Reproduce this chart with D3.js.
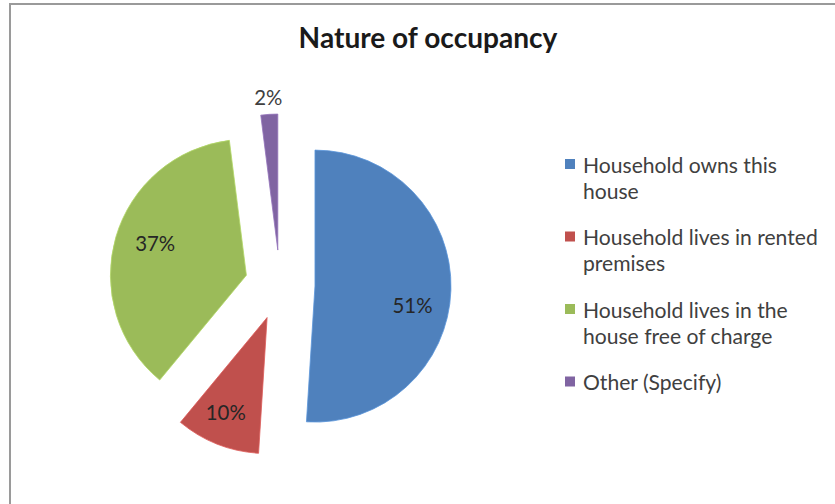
<!DOCTYPE html>
<html>
<head>
<meta charset="utf-8">
<script src="https://cdn.jsdelivr.net/npm/d3@7/dist/d3.min.js"></script>
<style>
  html, body { margin: 0; padding: 0; background: #fff; }
  svg { display: block; }
  text { font-family: Lato, "Open Sans", sans-serif; }
</style>
</head>
<body>
<svg id="chart" width="835" height="504"></svg>
<script>
// Occupancy shares (percent)
const categories = [
  "Household owns this house",
  "Household lives in rented premises",
  "Household lives in the house free of charge",
  "Other (Specify)"
];
const values = [51, 10, 37, 2];
const valueLabels = ["51%", "10%", "37%", "2%"];
const legendLines = [
  ["Household owns this", "house"],
  ["Household lives in rented", "premises"],
  ["Household lives in the", "house free of charge"],
  ["Other (Specify)"]
];
const title = "Nature of occupancy";

const colors = ["#4F81BD", "#C0504D", "#9BBB59", "#8064A2"];

const svg = d3.select("#chart");
const W = 835, H = 504;

// scale a text element's font size so it spans the given width
function fitWidth(sel, baseSize, width) {
  sel.attr("font-size", baseSize);
  const w = sel.node().getComputedTextLength();
  return baseSize * width / w;
}

// chart area frame (runs off the right and bottom edges)
svg.append("rect")
  .attr("x", 10).attr("y", 4)
  .attr("width", W + 20).attr("height", H + 20)
  .attr("fill", "#fff")
  .attr("stroke", "#9a9a9a")
  .attr("stroke-width", 2);

// title
const t = svg.append("text")
  .attr("x", 428).attr("y", 48)
  .attr("text-anchor", "middle")
  .attr("font-weight", 700)
  .attr("fill", "#1a1a1a")
  .text(title);
t.attr("font-size", fitWidth(t, 20, 259));

// pie geometry
const cx = 280, cy = 285, radius = 136, explode = 35;
const pie = d3.pie().sort(null).value(d => d)(values);
const arc = d3.arc().innerRadius(0).outerRadius(radius);

const g = svg.append("g").attr("transform", `translate(${cx},${cy})`);

const labelNudge = [9, 2, 3, 0];   // degrees, per-slice label tweak
const labelFrac  = [0.73, 0.76, 0.71, null];

// common label size, from the width of the first label
const probe = svg.append("text").text(valueLabels[0]);
const labelSize = fitWidth(probe, 15, 40);
probe.remove();

pie.forEach((p, i) => {
  const mid = (p.startAngle + p.endAngle) / 2;
  const dx = Math.sin(mid) * explode, dy = -Math.cos(mid) * explode;
  const sg = g.append("g").attr("transform", `translate(${dx},${dy})`);
  sg.append("path")
    .attr("d", arc(p))
    .attr("fill", colors[i])
    .attr("stroke", d3.color(colors[i]).brighter(0.4))
    .attr("stroke-width", 0.8);

  const la = mid + labelNudge[i] * Math.PI / 180;
  const lr = labelFrac[i] == null ? radius + 17 : radius * labelFrac[i];
  sg.append("text")
    .attr("x", Math.sin(la) * lr)
    .attr("y", -Math.cos(la) * lr)
    .attr("text-anchor", "middle")
    .attr("dominant-baseline", "central")
    .attr("font-size", labelSize)
    .attr("fill", labelFrac[i] == null ? "#404040" : "#262626")
    .text(valueLabels[i]);
});

// legend
const probe2 = svg.append("text").text(legendLines[0][0]);
const legendSize = fitWidth(probe2, 16, 194);
probe2.remove();

const legend = svg.append("g").attr("transform", "translate(565,164)");
const itemStep = 72.5, lineStep = 26;
categories.forEach((c, i) => {
  const li = legend.append("g").attr("transform", `translate(0,${i * itemStep})`);
  li.append("rect")
    .attr("x", 0).attr("y", -5)
    .attr("width", 10).attr("height", 10)
    .attr("fill", colors[i]);
  legendLines[i].forEach((ln, j) => {
    li.append("text")
      .attr("x", 18).attr("y", j * lineStep)
      .attr("dominant-baseline", "central")
      .attr("font-size", legendSize)
      .attr("fill", "#404040")
      .text(ln);
  });
});
</script>
</body>
</html>
